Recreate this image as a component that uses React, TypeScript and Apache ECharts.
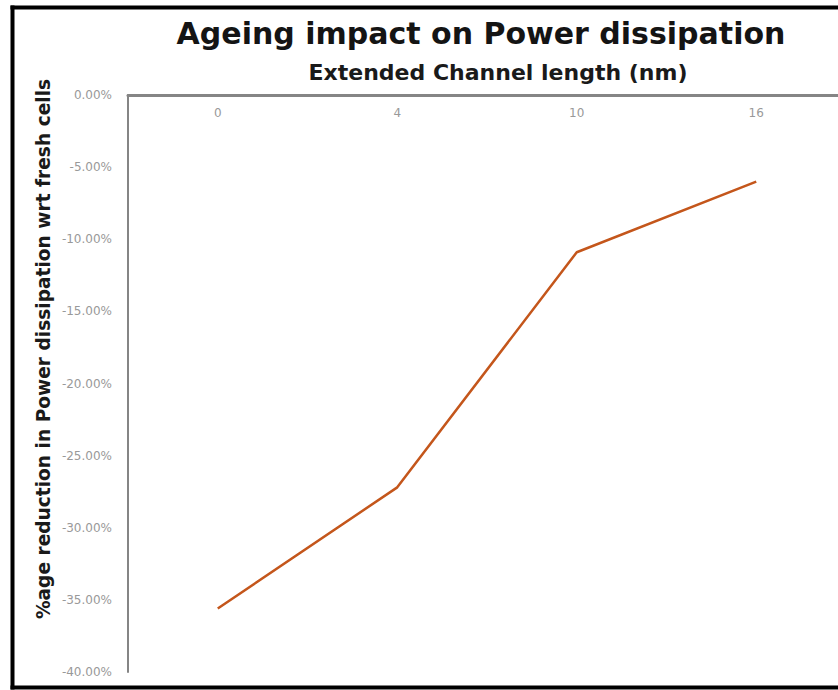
import React, { useEffect, useRef } from "react";
import * as echarts from "echarts";

const categories = ["0", "4", "10", "16"];
const reduction = [-0.356, -0.272, -0.109, -0.06];
const titleText = "Ageing impact on Power dissipation";
const xAxisTitle = "Extended Channel length (nm)";
const yAxisTitle = "%age reduction in Power dissipation wrt fresh cells";

export default function App() {
  const ref = useRef<HTMLDivElement>(null);
  useEffect(() => {
    if (!ref.current) return;
    const chart = echarts.init(ref.current, undefined, { renderer: "svg" });
    chart.setOption({
      animation: false,
      backgroundColor: "#ffffff",
      grid: { left: 128, right: 0, top: 95, bottom: 18, containLabel: false },
      xAxis: {
        type: "category",
        position: "top",
        data: categories,
        boundaryGap: true,
        axisLine: { show: true, lineStyle: { color: "#858585", width: 3 } },
        axisTick: { show: false },
        axisLabel: { inside: true, color: "#999999", fontSize: 12, margin: 12, fontFamily: "DejaVu Sans" },
        splitLine: { show: false },
      },
      yAxis: {
        type: "value",
        min: -0.4,
        max: 0,
        interval: 0.05,
        axisLine: { show: true, lineStyle: { color: "#858585", width: 2 } },
        axisTick: { show: false },
        splitLine: { show: false },
        axisLabel: {
          color: "#999999",
          fontSize: 12,
          margin: 16,
          fontFamily: "DejaVu Sans",
          formatter: (v: number) => (Math.abs(v) < 1e-9 ? "0.00%" : (v * 100).toFixed(2) + "%"),
        },
      },
      series: [
        {
          type: "line",
          data: reduction,
          symbol: "none",
          lineStyle: { color: "#c4561b", width: 2.5 },
        },
      ],
      graphic: [
        {
          type: "line",
          shape: { x1: 12.5, y1: 5.5, x2: 12.5, y2: 689.5 },
          style: { stroke: "#000", lineWidth: 4 },
          silent: true,
        },
        {
          type: "line",
          shape: { x1: 10.5, y1: 7.5, x2: 846, y2: 7.5 },
          style: { stroke: "#000", lineWidth: 4 },
          silent: true,
        },
        {
          type: "line",
          shape: { x1: 10.5, y1: 687.5, x2: 846, y2: 687.5 },
          style: { stroke: "#000", lineWidth: 4 },
          silent: true,
        },
        {
          type: "text",
          x: 481,
          y: 33,
          style: {
            text: titleText,
            fontFamily: "DejaVu Sans",
            fontWeight: "bold",
            fontSize: 30,
            fill: "#141414",
            align: "center",
            verticalAlign: "middle",
          },
        },
        {
          type: "text",
          x: 498,
          y: 72,
          style: {
            text: xAxisTitle,
            fontFamily: "DejaVu Sans",
            fontWeight: "bold",
            fontSize: 22,
            fill: "#1a1a1a",
            align: "center",
            verticalAlign: "middle",
          },
        },
        {
          type: "text",
          x: 43,
          y: 349,
          rotation: Math.PI / 2,
          style: {
            text: yAxisTitle,
            fontFamily: "DejaVu Sans",
            fontWeight: "bold",
            fontSize: 18.6,
            fill: "#1a1a1a",
            align: "center",
            verticalAlign: "middle",
          },
        },
      ],
    });
    return () => chart.dispose();
  }, []);
  return (
    <div style={{ position: "absolute", left: 0, top: 0, width: 838, height: 690, overflow: "hidden" }}>
      <div ref={ref} style={{ width: 846, height: 690 }} />
    </div>
  );
}
